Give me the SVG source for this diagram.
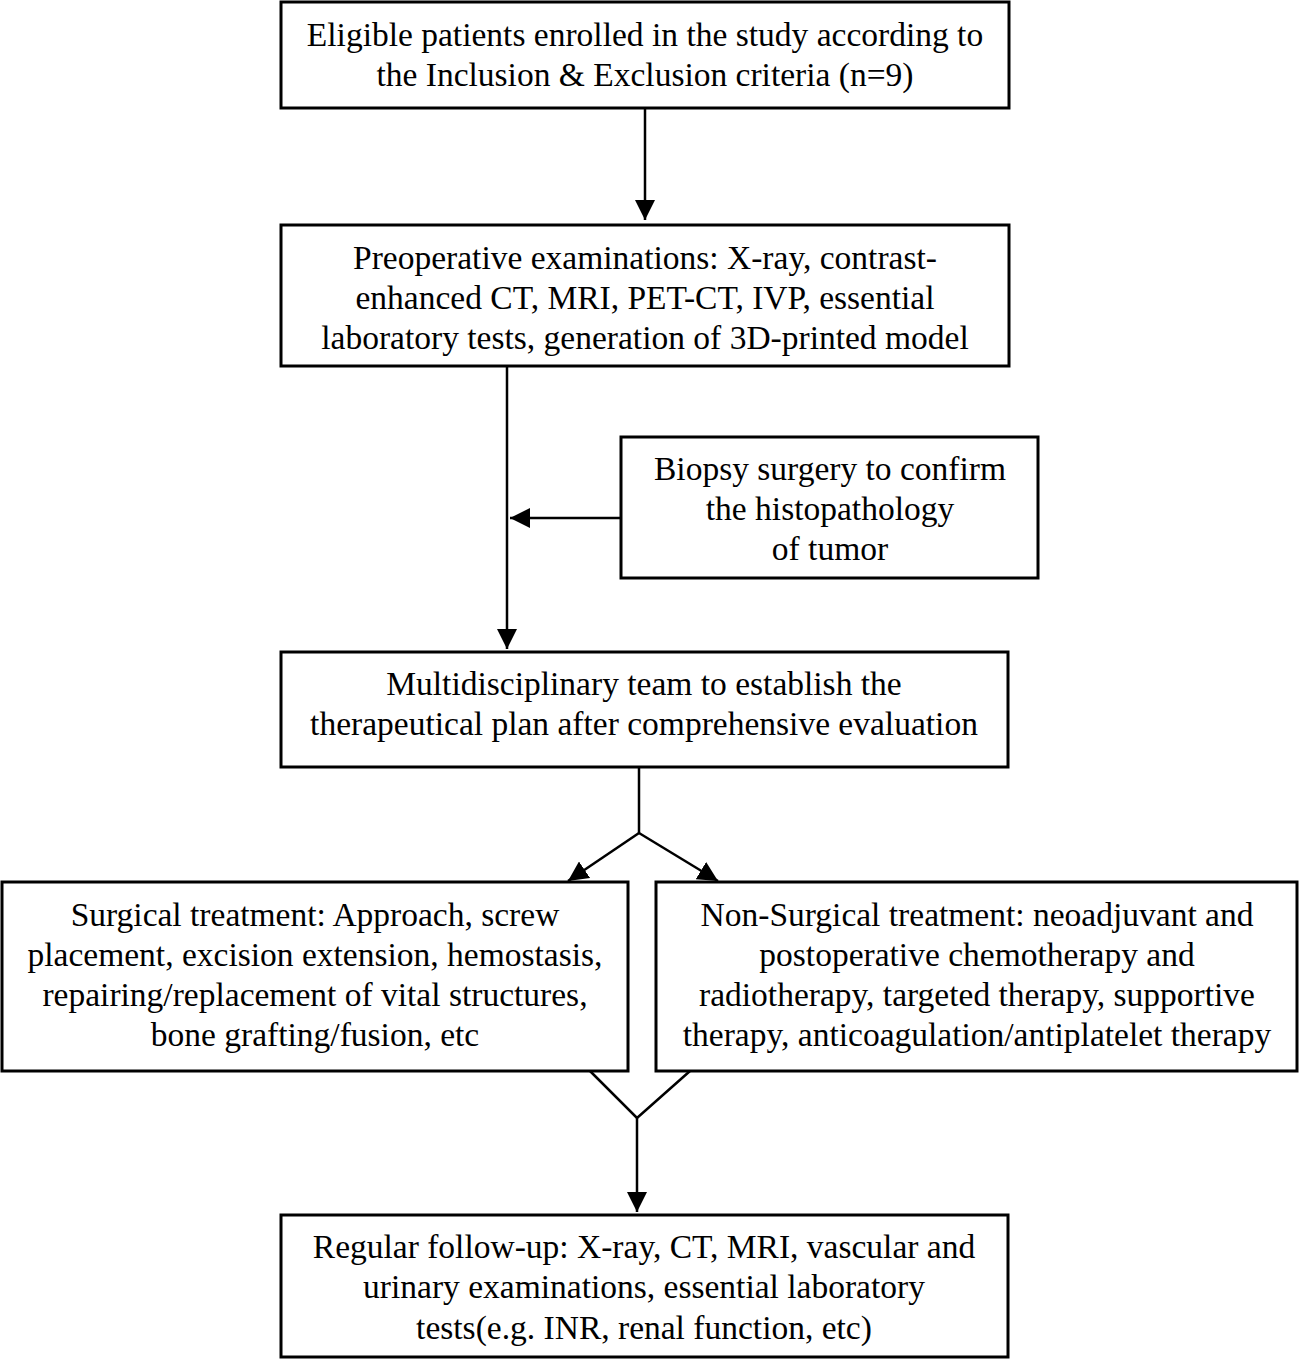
<svg xmlns="http://www.w3.org/2000/svg" width="1299" height="1368" viewBox="0 0 1299 1368">
<style>
.box{fill:#fff;stroke:#000;stroke-width:3}
.t{font-family:"Liberation Serif","Times New Roman",serif;font-size:33.5px;fill:#000;text-anchor:middle}
.c{fill:none;stroke:#000;stroke-width:2.5}
</style>
<defs>
<marker id="ah2" viewBox="0 0 10 10" refX="10" refY="5" markerWidth="20" markerHeight="20" markerUnits="userSpaceOnUse" orient="auto"><path d="M0,0 L10,5 L0,10 z" fill="#000"/></marker>
</defs>
<rect width="1299" height="1368" fill="#fff"/>
<g id="connectors">
<path class="c" d="M645,108 V220" marker-end="url(#ah2)"/>
<path class="c" d="M507,366 V649" marker-end="url(#ah2)"/>
<path class="c" d="M621,518 H510" marker-end="url(#ah2)"/>
<path class="c" d="M639,767 V833"/>
<path class="c" d="M639,833 L568,881" marker-end="url(#ah2)"/>
<path class="c" d="M639,833 L718,881" marker-end="url(#ah2)"/>
<path class="c" d="M590,1071 L637,1118 L690,1071"/>
<path class="c" d="M637,1118 V1212" marker-end="url(#ah2)"/>
</g>
<g id="n1"><rect class="box" x="281" y="2" width="728" height="106"/>
<text class="t" x="645" y="46">Eligible patients enrolled in the study according to</text>
<text class="t" x="645" y="86">the Inclusion &amp; Exclusion criteria (n=9)</text></g>
<g id="n2"><rect class="box" x="281" y="225" width="728" height="141"/>
<text class="t" x="645" y="269">Preoperative examinations: X-ray, contrast-</text>
<text class="t" x="645" y="309">enhanced CT, MRI, PET-CT, IVP, essential</text>
<text class="t" x="645" y="349">laboratory tests, generation of 3D-printed model</text></g>
<g id="n3"><rect class="box" x="621" y="437" width="417" height="141"/>
<text class="t" x="830" y="480">Biopsy surgery to confirm</text>
<text class="t" x="830" y="520">the histopathology</text>
<text class="t" x="830" y="560">of tumor</text></g>
<g id="n4"><rect class="box" x="281" y="652" width="727" height="115"/>
<text class="t" x="644" y="695">Multidisciplinary team to establish the</text>
<text class="t" x="644" y="735">therapeutical plan after comprehensive evaluation</text></g>
<g id="n5"><rect class="box" x="2" y="882" width="626" height="189"/>
<text class="t" x="315" y="926">Surgical treatment: Approach, screw</text>
<text class="t" x="315" y="966">placement, excision extension, hemostasis,</text>
<text class="t" x="315" y="1006">repairing/replacement of vital structures,</text>
<text class="t" x="315" y="1046">bone grafting/fusion, etc</text></g>
<g id="n6"><rect class="box" x="656" y="882" width="641" height="189"/>
<text class="t" x="977" y="926">Non-Surgical treatment: neoadjuvant and</text>
<text class="t" x="977" y="966">postoperative chemotherapy and</text>
<text class="t" x="977" y="1006">radiotherapy, targeted therapy, supportive</text>
<text class="t" x="977" y="1046">therapy, anticoagulation/antiplatelet therapy</text></g>
<g id="n7"><rect class="box" x="281" y="1215" width="727" height="142"/>
<text class="t" x="644" y="1258">Regular follow-up: X-ray, CT, MRI, vascular and</text>
<text class="t" x="644" y="1298">urinary examinations, essential laboratory</text>
<text class="t" x="644" y="1339">tests(e.g. INR, renal function, etc)</text></g>
</svg>
